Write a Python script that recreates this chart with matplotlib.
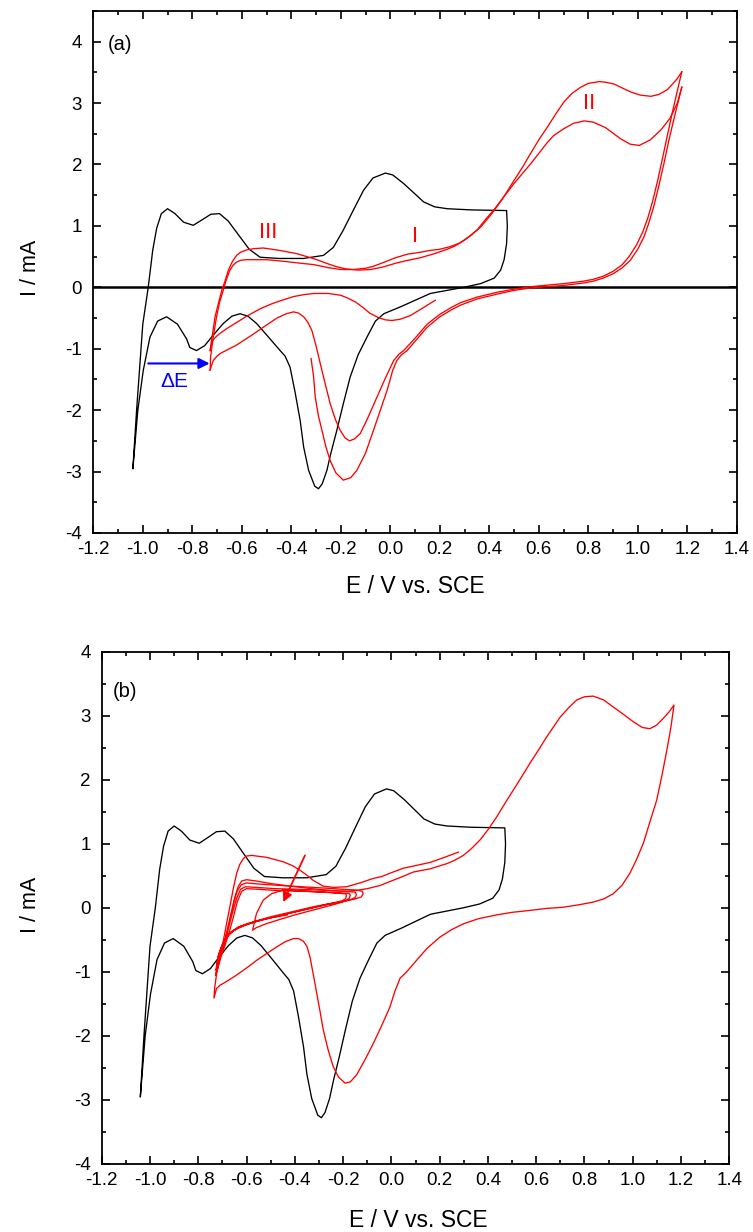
import numpy as np
import matplotlib
matplotlib.use("Agg")
import matplotlib.pyplot as plt
from matplotlib.ticker import MultipleLocator, FormatStrFormatter

plt.rcParams['font.family'] = ['Liberation Sans', 'DejaVu Sans']
plt.rcParams['axes.unicode_minus'] = False

# ---- data: (E / V vs SCE, I / mA) ----
# black reference CV (same in both panels)
black = [(-1.04, -2.95), (-1.025, -2.0), (-1.0, -0.6), (-0.978, 0.0), (-0.96, 0.6), (-0.944, 0.96),
         (-0.925, 1.2), (-0.90, 1.28), (-0.87, 1.2), (-0.835, 1.06), (-0.796, 1.01), (-0.76, 1.1),
         (-0.725, 1.19), (-0.69, 1.2), (-0.655, 1.08), (-0.607, 0.82), (-0.57, 0.62), (-0.526, 0.49),
         (-0.45, 0.47), (-0.35, 0.47), (-0.27, 0.52), (-0.23, 0.65), (-0.19, 0.93), (-0.15, 1.25),
         (-0.108, 1.58), (-0.07, 1.78), (-0.02, 1.86), (0.01, 1.83), (0.054, 1.69), (0.10, 1.52),
         (0.135, 1.39), (0.18, 1.31), (0.23, 1.28), (0.33, 1.26), (0.47, 1.25), (0.473, 1.0),
         (0.47, 0.71), (0.46, 0.45), (0.446, 0.28), (0.42, 0.15), (0.365, 0.06), (0.297, 0.0),
         (0.162, -0.10), (0.04, -0.32), (-0.026, -0.43), (-0.06, -0.55), (-0.094, -0.81),
         (-0.13, -1.1), (-0.162, -1.46), (-0.19, -1.9), (-0.216, -2.33), (-0.24, -2.7),
         (-0.256, -2.98), (-0.275, -3.2), (-0.29, -3.28), (-0.305, -3.24), (-0.33, -2.98),
         (-0.35, -2.6), (-0.364, -2.17), (-0.385, -1.7), (-0.405, -1.30), (-0.425, -1.12),
         (-0.445, -1.03), (-0.49, -0.82), (-0.54, -0.59), (-0.575, -0.47), (-0.607, -0.43),
         (-0.64, -0.47), (-0.675, -0.59), (-0.72, -0.8), (-0.75, -0.95), (-0.783, -1.03),
         (-0.81, -0.98), (-0.823, -0.84), (-0.86, -0.6), (-0.904, -0.48), (-0.94, -0.55),
         (-0.971, -0.81), (-0.998, -1.35), (-1.02, -2.0), (-1.04, -2.95)]

# panel (a), red: first forward sweep from the start potential
a_fw1 = [(-0.32, -1.16), (-0.31, -1.45), (-0.303, -1.79), (-0.29, -2.1), (-0.276, -2.33), (-0.26, -2.6),
         (-0.243, -2.82), (-0.22, -3.02), (-0.19, -3.14), (-0.16, -3.1), (-0.135, -2.98), (-0.10, -2.7),
         (-0.068, -2.33), (-0.04, -2.0), (-0.013, -1.68), (0.01, -1.35), (0.027, -1.19), (0.045, -1.1),
         (0.068, -1.03), (0.10, -0.88), (0.149, -0.65), (0.2, -0.48), (0.25, -0.36), (0.284, -0.29),
         (0.35, -0.19), (0.432, -0.11), (0.5, -0.05), (0.567, -0.01), (0.70, 0.03), (0.78, 0.07),
         (0.82, 0.10), (0.86, 0.15), (0.90, 0.22), (0.935, 0.31), (0.97, 0.44), (1.0, 0.62),
         (1.025, 0.82), (1.045, 1.05), (1.065, 1.32), (1.085, 1.65), (1.105, 2.0), (1.125, 2.38),
         (1.145, 2.72), (1.165, 3.05), (1.178, 3.26)]
a_rev1 = [(1.178, 3.26), (1.16, 3.0), (1.13, 2.75), (1.093, 2.56), (1.05, 2.4), (1.006, 2.31), (0.97, 2.33),
          (0.93, 2.42), (0.87, 2.6), (0.82, 2.69), (0.783, 2.71), (0.74, 2.67), (0.70, 2.58), (0.66, 2.47),
          (0.635, 2.36), (0.60, 2.18), (0.567, 2.01), (0.50, 1.69), (0.46, 1.48), (0.42, 1.27), (0.38, 1.08),
          (0.35, 0.93), (0.31, 0.80), (0.28, 0.72), (0.24, 0.66), (0.2, 0.62), (0.16, 0.60), (0.12, 0.57),
          (0.07, 0.54), (0.02, 0.48), (-0.03, 0.40), (-0.07, 0.34), (-0.1, 0.31), (-0.15, 0.29),
          (-0.2, 0.29), (-0.25, 0.32), (-0.31, 0.37), (-0.38, 0.40), (-0.445, 0.43), (-0.5, 0.45),
          (-0.58, 0.45), (-0.605, 0.44), (-0.621, 0.41), (-0.635, 0.36), (-0.648, 0.28), (-0.662, 0.13),
          (-0.675, -0.05), (-0.69, -0.25), (-0.702, -0.48), (-0.715, -0.8), (-0.726, -1.13), (-0.728, -1.35)]
a_fw2 = [(-0.728, -1.35), (-0.722, -1.27), (-0.715, -1.19), (-0.70, -1.12), (-0.688, -1.08), (-0.66, -1.02),
         (-0.621, -0.94), (-0.56, -0.78), (-0.513, -0.65), (-0.458, -0.50), (-0.42, -0.43), (-0.391, -0.40),
         (-0.37, -0.42), (-0.35, -0.48), (-0.333, -0.57), (-0.317, -0.70), (-0.30, -0.95), (-0.283, -1.24),
         (-0.263, -1.57), (-0.243, -1.89), (-0.222, -2.15), (-0.202, -2.33), (-0.183, -2.45), (-0.165, -2.50),
         (-0.145, -2.47), (-0.121, -2.38), (-0.09, -2.12), (-0.054, -1.79), (-0.02, -1.48), (0.014, -1.19),
         (0.035, -1.09), (0.054, -1.03), (0.1, -0.83), (0.149, -0.60), (0.2, -0.44), (0.25, -0.32),
         (0.284, -0.25), (0.35, -0.16), (0.432, -0.08), (0.5, -0.03), (0.567, 0.01), (0.70, 0.06),
         (0.78, 0.10), (0.82, 0.13), (0.86, 0.18), (0.90, 0.26), (0.935, 0.36), (0.965, 0.5), (0.995, 0.69),
         (1.02, 0.9), (1.04, 1.12), (1.06, 1.4), (1.08, 1.73), (1.10, 2.1), (1.12, 2.48), (1.14, 2.85),
         (1.16, 3.2), (1.178, 3.51)]
a_rev2 = [(1.178, 3.51), (1.16, 3.40), (1.145, 3.33), (1.12, 3.22), (1.085, 3.14), (1.053, 3.11), (1.01, 3.13),
          (0.972, 3.18), (0.93, 3.26), (0.904, 3.31), (0.87, 3.34), (0.844, 3.35), (0.80, 3.32), (0.77, 3.26),
          (0.735, 3.16), (0.702, 3.02), (0.67, 2.83), (0.635, 2.61), (0.60, 2.4), (0.567, 2.18), (0.535, 1.96),
          (0.50, 1.74), (0.455, 1.45), (0.42, 1.25), (0.39, 1.1), (0.365, 0.98), (0.33, 0.86), (0.297, 0.76),
          (0.26, 0.67), (0.23, 0.62), (0.18, 0.55), (0.12, 0.48), (0.06, 0.43), (0.02, 0.39), (-0.03, 0.33),
          (-0.08, 0.29), (-0.13, 0.28), (-0.18, 0.30), (-0.22, 0.34), (-0.25, 0.38), (-0.29, 0.44),
          (-0.32, 0.48), (-0.38, 0.55), (-0.445, 0.60), (-0.513, 0.64), (-0.55, 0.63), (-0.58, 0.61),
          (-0.605, 0.57), (-0.621, 0.52), (-0.638, 0.42), (-0.654, 0.28), (-0.668, 0.1), (-0.681, -0.05),
          (-0.695, -0.27), (-0.708, -0.48), (-0.722, -0.86), (-0.728, -1.03)]
a_fw3 = [(-0.728, -1.03), (-0.722, -0.92), (-0.715, -0.85), (-0.70, -0.79), (-0.688, -0.75), (-0.66, -0.67),
         (-0.62, -0.57), (-0.58, -0.47), (-0.526, -0.35), (-0.48, -0.27), (-0.445, -0.22), (-0.39, -0.15),
         (-0.35, -0.12), (-0.31, -0.10), (-0.25, -0.10), (-0.2, -0.13), (-0.175, -0.17), (-0.14, -0.24),
         (-0.11, -0.33), (-0.083, -0.42), (-0.05, -0.49), (-0.02, -0.53), (0.007, -0.54), (0.04, -0.52),
         (0.081, -0.46), (0.13, -0.34), (0.182, -0.21)]

# panel (b), red: the wide cycle
b_big = [(0.277, 0.87), (0.22, 0.79), (0.16, 0.71), (0.1, 0.66), (0.05, 0.62), (0.0, 0.55), (-0.04, 0.49),
         (-0.075, 0.46), (-0.13, 0.39), (-0.186, 0.33), (-0.24, 0.32), (-0.283, 0.34), (-0.324, 0.43),
         (-0.35, 0.51), (-0.379, 0.59), (-0.41, 0.66), (-0.448, 0.72), (-0.517, 0.79), (-0.579, 0.82),
         (-0.6, 0.81), (-0.613, 0.77), (-0.628, 0.68), (-0.641, 0.54), (-0.655, 0.3), (-0.669, 0.02),
         (-0.683, -0.25), (-0.696, -0.51), (-0.71, -0.78), (-0.724, -1.03), (-0.732, -1.25), (-0.735, -1.41),
         (-0.724, -1.26), (-0.71, -1.21), (-0.696, -1.18), (-0.67, -1.12), (-0.641, -1.05), (-0.6, -0.94),
         (-0.558, -0.82), (-0.515, -0.71), (-0.475, -0.61), (-0.44, -0.53), (-0.406, -0.48), (-0.385, -0.48),
         (-0.365, -0.52), (-0.35, -0.6), (-0.337, -0.77), (-0.323, -1.05), (-0.309, -1.34), (-0.295, -1.63),
         (-0.282, -1.91), (-0.262, -2.22), (-0.241, -2.48), (-0.22, -2.64), (-0.192, -2.74), (-0.17, -2.72),
         (-0.144, -2.61), (-0.11, -2.38), (-0.075, -2.12), (-0.04, -1.84), (-0.006, -1.55), (0.015, -1.3),
         (0.036, -1.1), (0.05, -1.05), (0.063, -1.0), (0.1, -0.84), (0.146, -0.64), (0.2, -0.46),
         (0.25, -0.34), (0.298, -0.25), (0.36, -0.17), (0.436, -0.11), (0.5, -0.07), (0.574, -0.04),
         (0.64, -0.01), (0.712, 0.01), (0.78, 0.05), (0.836, 0.09), (0.88, 0.14), (0.919, 0.22),
         (0.955, 0.35), (0.988, 0.54), (1.015, 0.75), (1.044, 1.01), (1.07, 1.33), (1.099, 1.68),
         (1.12, 2.05), (1.141, 2.46), (1.158, 2.82), (1.171, 3.17),
         (1.15, 3.06), (1.126, 2.96), (1.1, 2.86), (1.071, 2.80), (1.04, 2.82), (1.002, 2.91), (0.96, 3.03),
         (0.919, 3.14), (0.88, 3.25), (0.836, 3.31), (0.8, 3.3), (0.768, 3.25), (0.735, 3.13), (0.699, 2.98),
         (0.67, 2.82), (0.643, 2.67), (0.61, 2.47), (0.574, 2.26), (0.54, 2.05), (0.505, 1.84), (0.47, 1.63),
         (0.436, 1.42), (0.4, 1.22), (0.367, 1.06), (0.33, 0.92), (0.298, 0.82), (0.26, 0.74), (0.229, 0.69),
         (0.16, 0.61), (0.091, 0.56), (0.04, 0.48), (-0.047, 0.35), (-0.1, 0.30), (-0.15, 0.27),
         (-0.186, 0.26), (-0.25, 0.27), (-0.33, 0.30), (-0.42, 0.34), (-0.5, 0.38), (-0.56, 0.42),
         (-0.6, 0.44), (-0.62, 0.42), (-0.635, 0.33), (-0.65, 0.15), (-0.665, -0.12), (-0.68, -0.4),
         (-0.695, -0.62), (-0.712, -0.85), (-0.728, -1.05)]

# panel (b), red: repeated short cycles (current falls with each one)
b_small = [(-0.728, -1.05), (-0.72, -0.82), (-0.705, -0.62), (-0.685, -0.47), (-0.655, -0.36), (-0.61, -0.27),
           (-0.54, -0.19), (-0.45, -0.11), (-0.36, -0.03), (-0.27, 0.05), (-0.2, 0.10), (-0.15, 0.14),
           (-0.125, 0.17), (-0.117, 0.22),
           (-0.12, 0.26), (-0.15, 0.28), (-0.2, 0.29), (-0.28, 0.31), (-0.37, 0.33), (-0.46, 0.35),
           (-0.54, 0.37), (-0.6, 0.39), (-0.622, 0.36), (-0.638, 0.27), (-0.652, 0.1), (-0.668, -0.15),
           (-0.685, -0.42), (-0.705, -0.7), (-0.727, -0.97),
           (-0.718, -0.76), (-0.70, -0.57), (-0.678, -0.43), (-0.645, -0.33), (-0.59, -0.25), (-0.52, -0.17),
           (-0.43, -0.09), (-0.34, -0.01), (-0.26, 0.06), (-0.2, 0.10), (-0.16, 0.14), (-0.148, 0.17),
           (-0.145, 0.21),
           (-0.15, 0.245), (-0.2, 0.26), (-0.28, 0.275), (-0.38, 0.29), (-0.48, 0.30), (-0.56, 0.32),
           (-0.605, 0.33), (-0.625, 0.29), (-0.642, 0.14), (-0.66, -0.1), (-0.68, -0.38), (-0.70, -0.64),
           (-0.724, -0.92),
           (-0.715, -0.72), (-0.695, -0.53), (-0.672, -0.40), (-0.635, -0.30), (-0.575, -0.22), (-0.5, -0.14),
           (-0.41, -0.06), (-0.32, 0.02), (-0.25, 0.07), (-0.205, 0.11), (-0.19, 0.14), (-0.186, 0.19),
           (-0.19, 0.22), (-0.26, 0.24), (-0.35, 0.26), (-0.448, 0.28), (-0.497, 0.22), (-0.531, 0.12),
           (-0.559, -0.09), (-0.575, -0.35),
           (-0.56, -0.31), (-0.52, -0.25), (-0.47, -0.19), (-0.4, -0.11), (-0.33, -0.04), (-0.27, 0.02),
           (-0.22, 0.07), (-0.19, 0.11), (-0.175, 0.15), (-0.17, 0.2),
           (-0.175, 0.225), (-0.22, 0.235), (-0.3, 0.25), (-0.38, 0.26), (-0.47, 0.27), (-0.55, 0.29),
           (-0.6, 0.30), (-0.62, 0.26), (-0.638, 0.1), (-0.655, -0.15), (-0.675, -0.42), (-0.695, -0.65),
           (-0.72, -0.88),
           (-0.71, -0.68), (-0.69, -0.5), (-0.665, -0.38), (-0.625, -0.29), (-0.56, -0.21), (-0.49, -0.15),
           (-0.431, -0.11)]

a_red = [a_fw1, a_rev1, a_fw2, a_rev2, a_fw3]
b_red = [b_big, b_small]

TICK_FS = 13.5
XLABEL_FS = 16.5
YLABEL_FS = 15.5


def style_axes(ax, ylim):
    ax.set_xlim(-1.2, 1.4)
    ax.set_ylim(*ylim)
    ax.xaxis.set_major_locator(MultipleLocator(0.2))
    ax.xaxis.set_minor_locator(MultipleLocator(0.1))
    ax.yaxis.set_major_locator(MultipleLocator(1))
    ax.yaxis.set_minor_locator(MultipleLocator(0.5))
    ax.xaxis.set_major_formatter(FormatStrFormatter('%.1f'))
    ax.yaxis.set_major_formatter(FormatStrFormatter('%d'))
    ax.tick_params(which='both', direction='in', top=True, right=True, width=1.2)
    ax.tick_params(which='major', length=6)
    ax.tick_params(which='minor', length=3)
    ax.tick_params(axis='x', which='major', pad=6, labelsize=TICK_FS)
    ax.tick_params(axis='y', which='major', pad=8, labelsize=TICK_FS)
    for s in ax.spines.values():
        s.set_linewidth(1.3)
    ax.set_xlabel('E / V vs. SCE', fontsize=XLABEL_FS)
    ax.set_ylabel('I / mA', fontsize=YLABEL_FS)


def draw(ax, curves, color):
    for c in curves:
        e, i = zip(*c)
        ax.plot(e, i, color=color, lw=0.95)


fig = plt.figure(figsize=(7.53, 12.32), dpi=100)
ax1 = fig.add_axes([0.1239, 0.5674, 0.8545, 0.4237])
ax2 = fig.add_axes([0.1351, 0.0554, 0.8334, 0.4154])

# panel (a)
style_axes(ax1, (-4, 4.5))
ax1.axhline(0, color='black', lw=1.8)
draw(ax1, [black], 'black')
draw(ax1, a_red, 'red')
ax1.text(0.022, 0.935, '(a)', transform=ax1.transAxes, fontsize=14.5, va='center')
ax1.text(-0.494, 0.90, 'III', color='red', fontsize=16, ha='center', va='center')
ax1.text(0.10, 0.82, 'I', color='red', fontsize=16, ha='center', va='center')
ax1.text(0.804, 3.0, 'II', color='red', fontsize=16, ha='center', va='center')
ax1.annotate('', xy=(-0.73, -1.24), xytext=(-0.978, -1.24),
             arrowprops=dict(arrowstyle='-|>', color='blue', lw=1.5, mutation_scale=16,
                             shrinkA=0, shrinkB=0))
ax1.text(-0.874, -1.54, '\u0394E', color='blue', fontsize=15, ha='center', va='center')
ax1.xaxis.set_label_coords(0.5, -0.103)
ax1.xaxis.label.set_va('center')
ax1.yaxis.set_label_coords(-0.098, 0.508)
ax1.yaxis.label.set_va('center')

# panel (b)
style_axes(ax2, (-4, 4))
draw(ax2, [black], 'black')
draw(ax2, b_red, 'red')
ax2.text(0.018, 0.922, '(b)', transform=ax2.transAxes, fontsize=14.5, va='center')
ax2.annotate('', xy=(-0.448, 0.09), xytext=(-0.358, 0.82),
             arrowprops=dict(arrowstyle='-|>', color='red', lw=1.3, mutation_scale=14,
                             shrinkA=0, shrinkB=0))
ax2.xaxis.set_label_coords(0.504, -0.11)
ax2.xaxis.label.set_va('center')
ax2.yaxis.set_label_coords(-0.114, 0.506)
ax2.yaxis.label.set_va('center')

fig.savefig('out.png', dpi=100)
